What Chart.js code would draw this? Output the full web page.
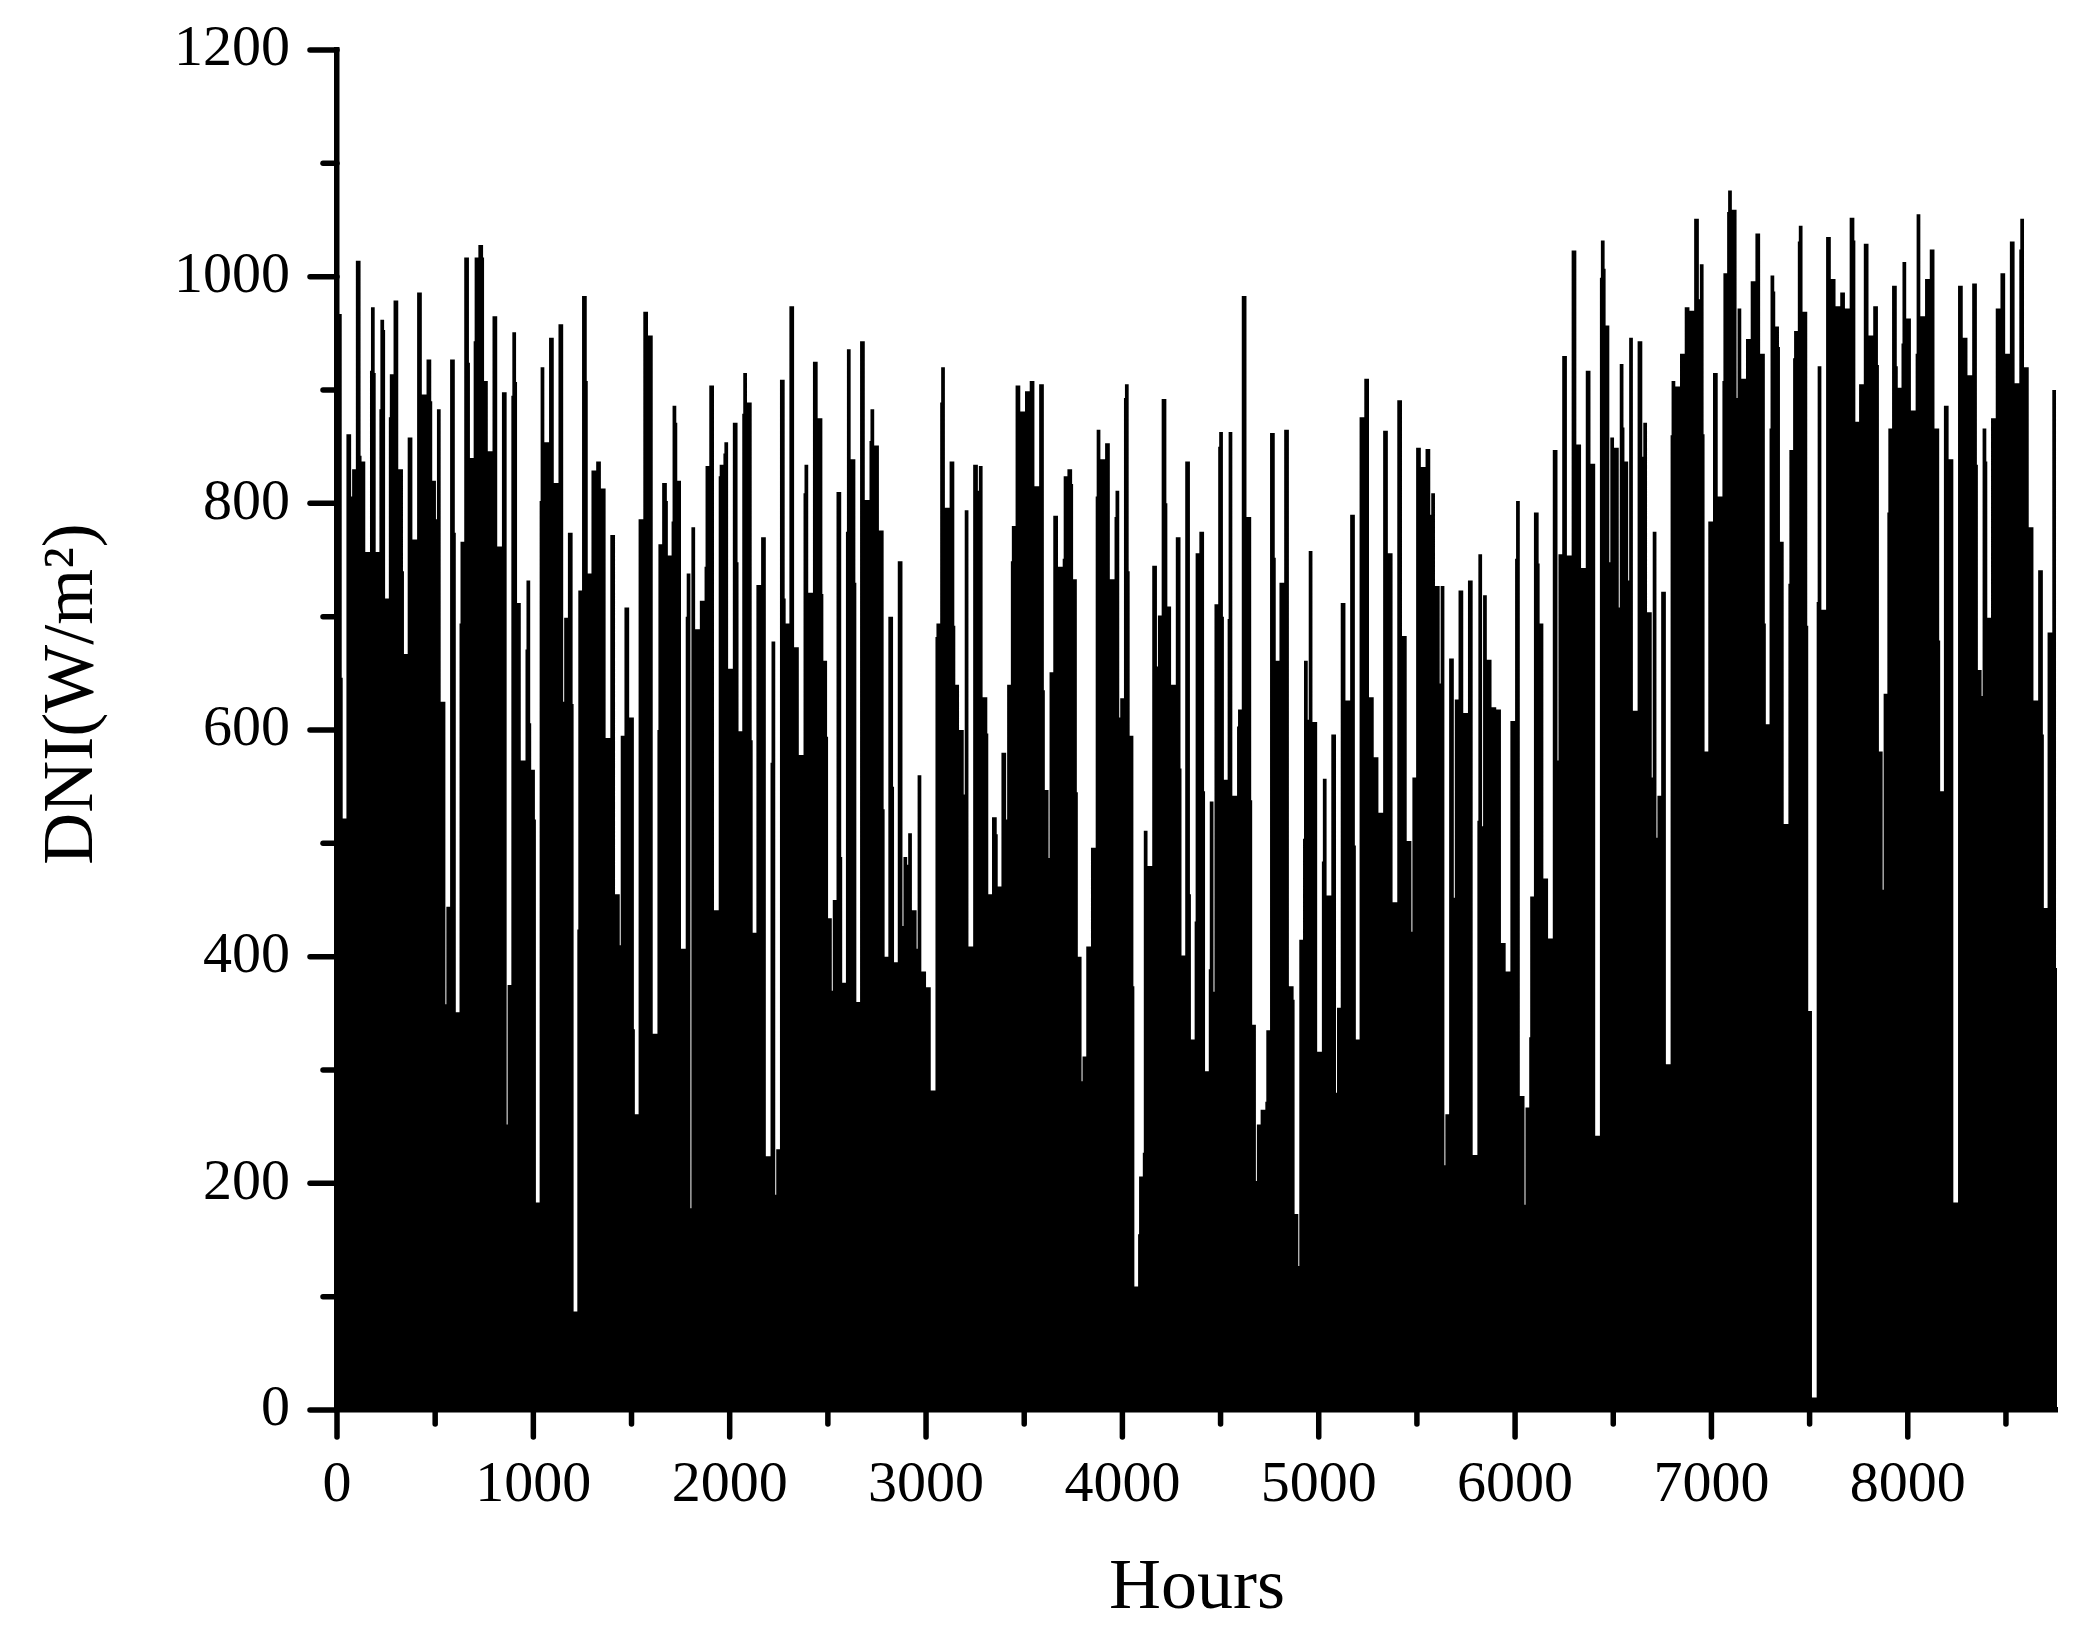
<!DOCTYPE html>
<html>
<head>
<meta charset="utf-8">
<script src="https://cdn.jsdelivr.net/npm/chart.js@4"></script>
<style>html,body{margin:0;padding:0;background:#fff}canvas{display:block}</style>
</head>
<body>
<canvas id="c" width="2088" height="1644"></canvas>
<script>
const xTitle = "Hours";
const yTitle = "\u00A0\u00A0\u00A0\u00A0DNI(W/m\u00B2)";
const hoursPerDay = 24;
const dawnHours = 5;
// daily peak DNI (W/m2), one per day of the year
const dailyPeak = [
967,522,861,830,1014,837,757,973,757,962,716,914,979,830,667,858,768,986,896,927,820,883,625,444,927,351,766,1017,840,1017,1028,908,846,965,762,898,375,951,712,573,732,
565,183,920,854,946,818,958,699,774,87,723,983,738,829,837,813,593,772,455,595,708,611,261,786,969,948,332,764,818,754,886,820,407,738,779,689,714,833,904,441,834,
854,654,871,599,915,889,421,728,770,224,678,230,909,694,974,673,578,834,721,925,875,661,434,450,810,377,936,839,360,943,803,883,851,776,400,700,395,749,488,509,
441,560,387,373,282,694,920,796,837,640,600,794,409,834,833,629,455,523,462,580,640,780,904,881,899,908,815,905,547,651,789,744,824,830,733,400,312,409,496,865,839,
853,733,811,628,905,595,109,206,511,480,745,701,892,709,640,770,401,837,327,756,775,299,537,711,863,556,863,542,618,983,788,340,252,265,335,862,661,730,865,374,173,
415,661,758,607,316,557,454,596,355,712,626,790,327,876,910,629,576,527,864,756,448,891,683,502,558,849,832,848,809,727,727,261,663,627,723,615,732,225,755,719,
662,620,618,412,387,608,802,277,267,453,792,694,469,416,847,755,930,754,1023,852,743,917,835,242,1032,957,858,849,923,837,946,617,943,871,704,775,542,722,305,908,903,
932,973,970,1051,1011,581,784,915,806,1003,1076,1059,972,910,945,996,1038,932,605,1001,956,766,517,847,952,1045,969,352,11,921,706,1035,998,974,986,972,1052,872,905,1029,948,
974,581,632,866,992,902,1013,963,882,1055,965,998,1024,866,546,886,839,183,992,946,913,994,653,866,699,875,972,1003,932,1031,906,1051,920,779,626,741,443,686,900
];
// value held for the first hours of a day, as [day, W/m2]
const dayEdges = [
[1,646],[3,806],[5,842],[7,917],[8,915],[9,883],[10,953],[11,876],[14,740],[20,890],[21,786],[23,358],[25,774],[26,694],[28,924],[29,943],[31,1017],[36,252],[37,895],[38,907],[40,671],
[41,606],[42,521],[43,802],[48,625],[50,623],[51,424],[53,908],[60,410],[63,336],[68,600],[70,802],[71,784],[72,871],[74,700],[75,178],[78,744],[81,824],
[82,844],[85,748],[86,879],[88,591],[92,571],[93,190],[95,716],[99,809],[103,720],[104,594],[105,370],[107,488],[108,775],[110,730],[113,855],[116,530],[118,550],[120,427],[121,481],
[123,407],[127,682],[128,889],[131,692],[133,543],[136,811],[138,597],[140,508],[142,521],[143,749],[150,635],[151,487],[154,751],[156,817],[157,545],[158,290],[161,806],
[165,788],[166,611],[167,893],[168,740],[169,374],[170,155],[171,227],[174,656],[176,800],[179,566],[181,455],[182,431],[184,546],[185,389],[186,369],[187,850],[188,700],[189,698],[191,603],[194,538],[195,202],[197,272],[199,752],[203,362],
[204,127],[205,504],[206,609],[209,484],[212,280],[216,498],[228,422],[232,790],[234,641],[235,216],[237,452],[242,520],[243,515],
[250,751],[252,181],[253,329],[255,747],[259,573],[268,999],[269,1007],[270,748],[272,708],[273,867],[274,732],[277,841],[279,558],[280,505],[283,860],
[289,980],[290,861],[294,908],[295,1057],[297,893],[303,694],[304,866],[305,987],[306,938],[308,729],[309,928],[310,1031],[312,692],[314,713],[322,1032],
[327,922],[328,459],[329,792],[331,921],[332,941],[335,932],[340,679],[348,834],[349,630],[350,837],[357,1024],[362,596]
];
const lastHourValue = 390;
const xMax = 8760, yMax = 1200;
const xTickValues = [0,500,1000,1500,2000,2500,3000,3500,4000,4500,5000,5500,6000,6500,7000,7500,8000,8500];
const yStep = 100;
const xLabelEvery = 1000, yLabelEvery = 200;

const edgeMap = new Map(dayEdges);
const points = [];
dailyPeak.forEach((v, d) => {
  const start = d * hoursPerDay;
  if (edgeMap.has(d)) {
    points.push({x: start, y: edgeMap.get(d)});
    points.push({x: start + dawnHours, y: v});
  } else {
    points.push({x: start, y: v});
  }
});
points.push({x: xMax - dawnHours, y: lastHourValue});
points.push({x: xMax, y: lastHourValue});

const FONT = '"Liberation Serif","Times New Roman",serif';
const W = 5.5, MAJ = 27, MIN = 14;
const tickPlugin = {
  id: 'ticks',
  afterDraw(chart) {
    const {ctx, scales: {x, y}} = chart;
    ctx.save();
    ctx.strokeStyle = '#000';
    ctx.lineWidth = W;
    ctx.lineCap = 'round';
    const by = y.getPixelForValue(0), lx = x.getPixelForValue(0);
    x.ticks.forEach(t => {
      const p = x.getPixelForValue(t.value);
      const len = t.value % xLabelEvery === 0 ? MAJ : MIN;
      ctx.beginPath(); ctx.moveTo(p, by); ctx.lineTo(p, by + len); ctx.stroke();
    });
    y.ticks.forEach(t => {
      const p = y.getPixelForValue(t.value);
      const len = t.value % yLabelEvery === 0 ? MAJ : MIN;
      ctx.beginPath(); ctx.moveTo(lx, p); ctx.lineTo(lx - len, p); ctx.stroke();
    });
    ctx.restore();
  }
};

new Chart(document.getElementById('c'), {
  type: 'line',
  data: {
    datasets: [{
      label: 'DNI',
      data: points,
      stepped: true,
      fill: 'origin',
      backgroundColor: '#000',
      borderColor: '#000',
      borderWidth: 0,
      pointRadius: 0,
      tension: 0
    }]
  },
  options: {
    responsive: false,
    animation: false,
    devicePixelRatio: 1,
    layout: {padding: {top: 50, right: 31, left: 0, bottom: 0}},
    plugins: {legend: {display: false}, tooltip: {enabled: false}, title: {display: false}},
    scales: {
      x: {
        type: 'linear', min: 0, max: xMax,
        afterBuildTicks(s) { s.ticks = xTickValues.map(value => ({value})); },
        afterFit(s) { s.height = 234; s.paddingLeft = 0; s.paddingRight = 0; },
        grid: {drawOnChartArea: false, tickLength: MAJ, tickColor: 'transparent'},
        border: {display: true, color: '#000', width: W},
        ticks: {
          autoSkip: false, maxRotation: 0, padding: 14,
          color: '#000', font: {family: FONT, size: 58},
          callback: v => v % xLabelEvery === 0 ? String(v) : ''
        },
        title: {display: true, text: xTitle, color: '#000', font: {family: FONT, size: 72},
          padding: {top: 0, bottom: 12}}
      },
      y: {
        type: 'linear', min: 0, max: yMax,
        afterFit(s) { s.width = 337; s.paddingTop = 0; s.paddingBottom = 0; },
        grid: {drawOnChartArea: false, tickLength: MAJ, tickColor: 'transparent'},
        border: {display: true, color: '#000', width: W},
        ticks: {
          stepSize: yStep, autoSkip: false, padding: 20,
          color: '#000', font: {family: FONT, size: 58},
          callback: v => v % yLabelEvery === 0 ? String(v) : ''
        },
        title: {display: true, text: yTitle, color: '#000', font: {family: FONT, size: 72},
          padding: {top: 30, bottom: 0}}
      }
    }
  },
  plugins: [tickPlugin]
});
</script>
</body>
</html>
